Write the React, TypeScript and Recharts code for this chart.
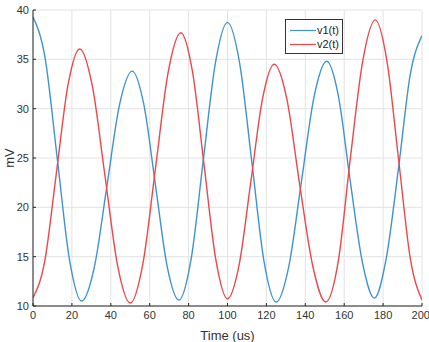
import React from "react";
import {
	LineChart,
	Line,
	XAxis,
	YAxis,
	CartesianGrid,
	Legend,
} from "recharts";

// time points (us), per series
const tV1 = [
	0, 6.25, 12.5, 18.75, 25, 31.5, 38, 44.5, 51, 57, 63, 69, 75, 81.25, 87.5,
	93.75, 100, 106.25, 112.5, 118.75, 125, 131.5, 138, 144.5, 151, 157, 163,
	169.5, 175.5, 181.5, 188, 194, 200,
];
const v1 = [
	39.3, 35.1, 24.9, 14.7, 10.5, 13.9, 22.15, 30.4, 33.8, 30.4, 22.2, 14.0,
	10.6, 14.7, 24.7, 34.6, 38.75, 34.6, 24.6, 14.55, 10.4, 14.0, 22.6, 31.2,
	34.8, 31.3, 22.8, 14.3, 10.8, 14.7, 24.1, 33.5, 37.4,
];

const tV2 = [
	0, 6, 12, 18, 24, 30.5, 37, 43.5, 50, 56.5, 63, 69.5, 76, 82, 88, 94, 100,
	106, 112, 118, 124, 130.5, 137, 144, 150.5, 157, 163, 169.5, 176, 182, 188,
	194, 200,
];
const v2 = [
	10.84, 14.5, 23.45, 32.4, 36.05, 32.3, 23.2, 14.1, 10.3, 14.3, 24.0, 33.7,
	37.7, 33.75, 24.2, 14.7, 10.74, 14.2, 22.6, 31.0, 34.5, 31.0, 22.45, 13.9,
	10.4, 14.6, 24.7, 34.8, 39.0, 34.8, 24.8, 14.8, 10.6,
];

const xTicks = [0, 20, 40, 60, 80, 100, 120, 140, 160, 180, 200];
const yTicks = [10, 15, 20, 25, 30, 35, 40];

const seriesNames = ["v1(t)", "v2(t)"];
const BLUE = "#3f93d2";
const RED = "#ee4649";
const seriesColors = [BLUE, RED];

const data1 = tV1.map((t, i) => ({ t, v: v1[i] }));
const data2 = tV2.map((t, i) => ({ t, v: v2[i] }));

const FONT = "'Liberation Sans', Arial, sans-serif";
const AXIS = "#262626";
const tickStyle = { fontSize: 11, fill: "#333", fontFamily: FONT };

const LegendBox = () => (
	<div
		style={{
			border: "1px solid #333",
			background: "#fff",
			padding: "3px 3px 2px 4px",
			fontFamily: FONT,
			fontSize: 11,
			color: "#222",
			lineHeight: "14px",
		}}
	>
		{seriesNames.map((n, i) => (
			<div key={n} style={{ display: "flex", alignItems: "center" }}>
				<svg width={28} height={14} style={{ marginRight: 1 }}>
					<line
						x1={0}
						x2={26}
						y1={7.5}
						y2={7.5}
						stroke={seriesColors[i]}
						strokeWidth={1.2}
					/>
				</svg>
				<span>{n}</span>
			</div>
		))}
	</div>
);

// rotated y-axis title, centred on the plot height
const YTitle = (props: any) => {
	const { viewBox } = props;
	const cy = viewBox.y + viewBox.height / 2;
	return (
		<text
			x={9}
			y={cy}
			transform={`rotate(-90, 9, ${cy})`}
			textAnchor="middle"
			dominantBaseline="central"
			style={{ fontSize: 13, fill: "#333", fontFamily: FONT }}
		>
			mV
		</text>
	);
};

const App = () => {
	return (
		<div style={{ position: "absolute", left: 0, top: 0 }}>
			<LineChart
				width={429}
				height={342}
				margin={{ top: 10, right: 7, left: 0, bottom: 0 }}
				style={{ background: "#fff" }}
			>
				<CartesianGrid stroke="#e3e3e3" />
				<XAxis
					dataKey="t"
					type="number"
					domain={[0, 200]}
					ticks={xTicks}
					allowDataOverflow
					height={36}
					stroke={AXIS}
					tickSize={-3}
					tickMargin={8}
					tick={tickStyle}
					label={{
						value: "Time (us)",
						position: "insideBottom",
						offset: 2,
						style: { fontSize: 13, fill: "#333", fontFamily: FONT },
					}}
				/>
				<XAxis
					xAxisId="top"
					orientation="top"
					dataKey="t"
					type="number"
					domain={[0, 200]}
					ticks={xTicks}
					height={0}
					stroke={AXIS}
					tickSize={-3}
					tick={false}
				/>
				<YAxis
					type="number"
					domain={[10, 40]}
					ticks={yTicks}
					width={33}
					stroke={AXIS}
					tickSize={-3}
					tickMargin={7}
					tick={tickStyle}
					label={<YTitle />}
				/>
				<YAxis
					yAxisId="right"
					orientation="right"
					type="number"
					domain={[10, 40]}
					ticks={yTicks}
					width={0}
					stroke={AXIS}
					tickSize={-3}
					tick={false}
				/>
				<Legend
					layout="horizontal"
					verticalAlign="middle"
					align="center"
					wrapperStyle={{ top: 19, left: 285, width: 58 }}
					content={() => <LegendBox />}
				/>
				<Line
					data={data1}
					dataKey="v"
					name={seriesNames[0]}
					type="monotone"
					stroke={BLUE}
					strokeWidth={1.4}
					dot={false}
					isAnimationActive={false}
				/>
				<Line
					data={data2}
					dataKey="v"
					name={seriesNames[1]}
					type="monotone"
					stroke={RED}
					strokeWidth={1.4}
					dot={false}
					isAnimationActive={false}
				/>
			</LineChart>
		</div>
	);
};

export default App;
